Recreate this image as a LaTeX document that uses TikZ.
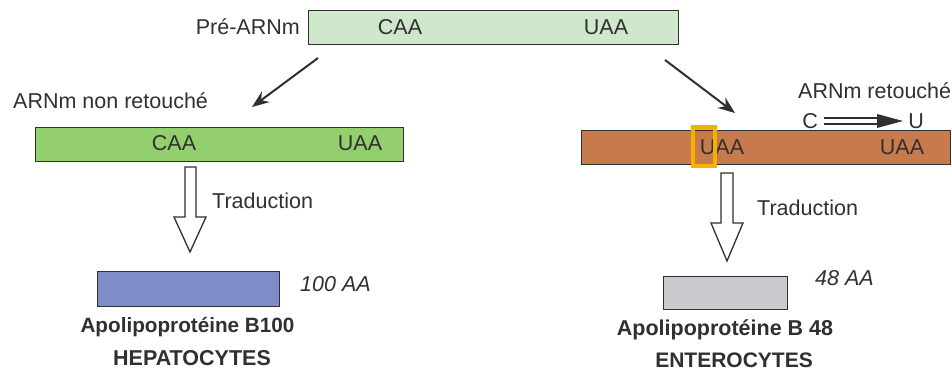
\documentclass[tikz,border=0pt]{standalone}
\usepackage{fontspec}
\setmainfont{Liberation Sans}
\usetikzlibrary{arrows.meta}
\definecolor{ink}{HTML}{303030}
\definecolor{preg}{HTML}{CFE7CB}
\definecolor{leafg}{HTML}{93CF6C}
\definecolor{rust}{HTML}{C77A4B}
\definecolor{apoblue}{HTML}{7E8DC8}
\definecolor{apogray}{HTML}{CDCACF}
\definecolor{mark}{HTML}{F5B000}
\tikzset{
  bar/.style={draw=ink, line width=1.4pt, inner sep=0pt, anchor=north west},
  txt/.style={text=ink, inner sep=0pt, font=\fontsize{21.5}{25}\selectfont},
  itxt/.style={txt, font=\fontsize{21.5}{25}\selectfont\itshape},
  btxt/.style={txt, font=\fontsize{21.5}{25}\selectfont\bfseries},
  pointer/.style={draw=ink, line width=2pt, -{Stealth[length=17pt,width=13pt]}},
  hollow/.style={draw=ink, line width=1.3pt, fill=white, line join=miter},
}
\begin{document}
\begin{tikzpicture}[x=1pt,y=-1pt]
\useasboundingbox (0,0) rectangle (952,371);
\fill[white] (0,0) rectangle (952,371);

% top pre-mRNA
\node[bar, fill=preg, minimum width=370pt, minimum height=34pt] (pre) at (308,10) {};
\node[txt, anchor=base east] (prelab) at (300,35) {Pré-ARNm};
\node[txt] (pcaa) at (400,27) {CAA};
\node[txt] (puaa) at (606,27) {UAA};

% left branch
\coordinate (la) at (318,58);
\coordinate (lb) at (252,107);
\draw[pointer] (la) -- (lb);
\node[txt, anchor=base west] (nonret) at (13,109) {ARNm non retouché};
\node[bar, fill=leafg, minimum width=368pt, minimum height=34pt] (gbox) at (35,127) {};
\node[txt] (gcaa) at (174,143) {CAA};
\node[txt] (guaa) at (360,143) {UAA};

% right branch
\coordinate (ra) at (665,60);
\coordinate (rb) at (735,113);
\draw[pointer] (ra) -- (rb);
\node[txt, anchor=base west] (ret) at (798,99) {ARNm retouché};
\node[txt] (cC) at (810,121) {C};
\node[txt] (cU) at (916,121) {U};
\draw[draw=ink, line width=1.5pt] ([xshift=6pt,yshift=-2.8pt]cC.east) -- ++(58,0);
\draw[draw=ink, line width=1.5pt] ([xshift=6pt,yshift=2.8pt]cC.east) -- ++(58,0);
\fill[ink] ([xshift=-5pt]cU.west) -- ++(-26,-7) -- ++(0,14) -- cycle;

\node[bar, fill=rust, minimum width=369pt, minimum height=34pt] (obox) at (581,130) {};
\node[txt] (ouaa1) at (722,147) {UAA};
\node[txt] (ouaa2) at (902,147) {UAA};
\draw[draw=mark, line width=4.5pt] (693,127.5) rectangle (715,166);

% hollow arrows
\draw[hollow] (185,167) -- (196,167) -- (196,217) -- (206,217) -- (190,252)
  -- (174,217) -- (185,217) -- cycle;
\node[txt, anchor=base west] (trl) at (212,209) {Traduction};
\draw[hollow] (721,173) -- (733,173) -- (733,223) -- (743,223) -- (727,261)
  -- (711,223) -- (721,223) -- cycle;
\node[txt, anchor=base west] (trr) at (757,216) {Traduction};

% proteins
\node[bar, fill=apoblue, minimum width=182pt, minimum height=35pt] (blue) at (97,271) {};
\node[itxt, anchor=base west] (aa100) at (300,291) {100 AA};
\node[btxt, font=\fontsize{20.7}{24}\selectfont\bfseries] (apo100) at (187.5,327) {Apolipoprotéine B100};
\node[btxt] (hep) at (192,358) {HEPATOCYTES};

\node[bar, fill=apogray, minimum width=124pt, minimum height=33pt] (gray) at (663,276) {};
\node[itxt, anchor=base west] (aa48) at (815,285) {48 AA};
\node[btxt] (apo48) at (725,330) {Apolipoprotéine B 48};
\node[btxt, font=\fontsize{21}{25}\selectfont\bfseries] (ent) at (734,360) {ENTEROCYTES};
\end{tikzpicture}
\end{document}
